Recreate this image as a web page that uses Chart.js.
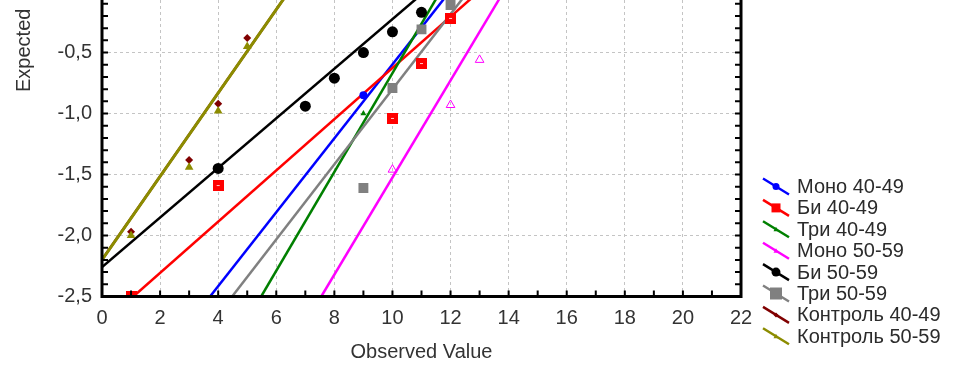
<!DOCTYPE html>
<html>
<head>
<meta charset="utf-8">
<script src="https://cdn.jsdelivr.net/npm/chart.js@4.4.1/dist/chart.umd.min.js"></script>
<style>
  html, body { margin: 0; padding: 0; background: #fff; }
  #wrap { width: 954px; height: 367px; }
</style>
</head>
<body>
<div id="wrap"><canvas id="ppChart"></canvas></div>
<script>
// Normal probability plot (Observed Value vs Expected normal value)
const groupNames = ["Моно 40-49", "Би 40-49", "Три 40-49", "Моно 50-59",
  "Би 50-59", "Три 50-59", "Контроль 40-49", "Контроль 50-59"];
const groupColors = ["#0000ff", "#ff0000", "#008000", "#ff00ff",
  "#000000", "#808080", "#800000", "#8c8c00"];

// observed values (x) and expected normal values (y), visible part only
const monoObs40 = [9];
const monoExp40 = [-0.85];
const biObs40 = [1, 4, 10, 11, 12];
const biExp40 = [-2.5, -1.59, -1.04, -0.59, -0.22];
const triObs40 = [9];
const triExp40 = [-1.0];
const monoObs50 = [10, 12, 13];
const monoExp50 = [-1.46, -0.93, -0.56];
const biObs50 = [4, 7, 8, 9, 10, 11];
const biExp50 = [-1.45, -0.94, -0.71, -0.5, -0.33, -0.17];
const triObs50 = [9, 10, 11, 12];
const triExp50 = [-1.61, -0.79, -0.31, -0.11];
const ctrlObs40 = [1, 3, 4, 5];
const ctrlExp40 = [-1.97, -1.38, -0.92, -0.38];
const ctrlObs50 = [1, 3, 4, 5];
const ctrlExp50 = [-2.0, -1.44, -0.98, -0.45];

// fitted lines: observed value where each line crosses expected -2.5 and 0
const fitExpEnds = [-2.5, 0];
const fitObsStart = [3.72, 1.08, 5.48, 7.55, -1.18, 4.48, -0.88, -0.88];
const fitObsEnd = [11.97, 12.98, 11.65, 13.83, 11.11, 12.6, 6.43, 6.43];

// axes
const xTicks = [0, 2, 4, 6, 8, 10, 12, 14, 16, 18, 20, 22];
const yTicks = [-2.5, -2.0, -1.5, -1.0, -0.5];
const yTop = -0.069; // top of plot is cut off in the picture

const obsLists = [monoObs40, biObs40, triObs40, monoObs50, biObs50, triObs50, ctrlObs40, ctrlObs50];
const expLists = [monoExp40, biExp40, triExp40, monoExp50, biExp50, triExp50, ctrlExp40, ctrlExp50];

// red square with a small white dash, like the original marker
function makeRedSquare() {
  const c = document.createElement("canvas");
  c.width = 11; c.height = 11;
  const g = c.getContext("2d");
  g.fillStyle = "#ff0000";
  g.fillRect(0, 0, 11, 11);
  g.strokeStyle = "rgba(255,255,255,0.8)";
  g.lineWidth = 1;
  g.beginPath(); g.moveTo(4, 5.5); g.lineTo(7, 5.5); g.stroke();
  return c;
}

const markerStyles = ["circle", makeRedSquare(), "triangle", "triangle",
  "circle", "rect", "rectRot", "triangle"];
const markerSizes = [4, 5, 3.5, 5, 5.5, 7, 4, 5];
const legendMarkerSizes = [3.5, 4.5, 2.5, 2.5, 4.5, 6, 2.5, 2.5];

const datasets = [];
groupNames.forEach((name, i) => {
  datasets.push({
    type: "scatter",
    label: name,
    data: obsLists[i].map((v, k) => ({ x: v, y: expLists[i][k] })),
    pointStyle: markerStyles[i],
    pointRadius: markerSizes[i],
    pointHoverRadius: markerSizes[i],
    backgroundColor: i === 3 ? "rgba(255,255,255,0)" : groupColors[i],
    borderColor: groupColors[i],
    borderWidth: i === 3 ? 1 : 0,
    order: 8 - i,
  });
  datasets.push({
    type: "line",
    label: name + " fit",
    data: fitExpEnds.map((e, k) => ({ x: k === 0 ? fitObsStart[i] : fitObsEnd[i], y: e })),
    borderColor: groupColors[i],
    borderWidth: i === 7 ? 3 : 2.5,
    pointRadius: 0,
    fill: false,
    order: 30 - i,
  });
});

function drawMarker(ctx, style, r, x, y, color) {
  ctx.fillStyle = color;
  ctx.beginPath();
  if (style === "circle") {
    ctx.arc(x, y, r, 0, Math.PI * 2);
  } else if (style === "triangle") {
    ctx.moveTo(x, y - r); ctx.lineTo(x + r, y + r * 0.8); ctx.lineTo(x - r, y + r * 0.8); ctx.closePath();
  } else if (style === "rectRot") {
    ctx.moveTo(x, y - r); ctx.lineTo(x + r, y); ctx.lineTo(x, y + r); ctx.lineTo(x - r, y); ctx.closePath();
  } else {
    ctx.rect(x - r, y - r, 2 * r, 2 * r);
  }
  ctx.fill();
}

const framePlugin = {
  id: "frame",
  afterDatasetsDraw(chart) {
    const { ctx, chartArea: a, scales: { x, y } } = chart;
    ctx.save();
    ctx.strokeStyle = "#000";
    // inward tick marks
    ctx.lineWidth = 2;
    ctx.beginPath();
    for (let v = 1; v < 22; v++) {
      const px = x.getPixelForValue(v);
      ctx.moveTo(px, a.bottom); ctx.lineTo(px, a.bottom - 6);
    }
    for (let k = -24; k < 0; k++) {
      const py = y.getPixelForValue(k / 10);
      ctx.moveTo(a.left, py); ctx.lineTo(a.left + 6, py);
      ctx.moveTo(a.right, py); ctx.lineTo(a.right - 6, py);
    }
    ctx.stroke();
    // frame
    ctx.lineWidth = 3;
    ctx.beginPath();
    ctx.moveTo(a.left, a.top - 2);
    ctx.lineTo(a.left, a.bottom);
    ctx.lineTo(a.right, a.bottom);
    ctx.lineTo(a.right, a.top - 2);
    ctx.stroke();

    // y title
    ctx.fillStyle = "#333";
    ctx.font = "20px 'Liberation Sans', Arial, sans-serif";
    ctx.save();
    ctx.translate(29.5, 92);
    ctx.rotate(-Math.PI / 2);
    ctx.textAlign = "left";
    ctx.textBaseline = "alphabetic";
    ctx.fillText("Expected", 0, 0);
    ctx.restore();

    // legend
    ctx.textAlign = "left";
    ctx.textBaseline = "middle";
    groupNames.forEach((name, i) => {
      const cy = 186.5 + i * 21.4;
      ctx.strokeStyle = groupColors[i];
      ctx.lineWidth = 2.5;
      ctx.beginPath();
      ctx.moveTo(763, cy - 8);
      ctx.lineTo(789, cy + 8);
      ctx.stroke();
      const st = typeof markerStyles[i] === "string" ? markerStyles[i] : "rect";
      drawMarker(ctx, st, legendMarkerSizes[i], 776, cy, groupColors[i]);
      ctx.fillStyle = "#2b2b2b";
      ctx.fillText(name, 797, cy + 1);
    });
    ctx.restore();
  },
};

const tickFont = { family: "'Liberation Sans', Arial, sans-serif", size: 20 };

new Chart(document.getElementById("ppChart"), {
  data: { datasets: datasets },
  options: {
    responsive: true,
    maintainAspectRatio: false,
    animation: false,
    layout: { autoPadding: false, padding: { left: 0, right: 213, top: 0, bottom: 0 } },
    plugins: { legend: { display: false }, tooltip: { enabled: false } },
    scales: {
      x: {
        type: "linear",
        min: 0,
        max: 22,
        afterBuildTicks: (s) => { s.ticks = xTicks.map((v) => ({ value: v })); },
        afterFit: (s) => { s.height = 70.5; },
        ticks: { font: tickFont, color: "#333", padding: 10, maxRotation: 0, autoSkip: false },
        grid: { color: "#c4c4c4", lineWidth: 1, drawTicks: false },
        border: { display: false, dash: [3, 3] },
        title: {
          display: true,
          text: "Observed Value",
          font: tickFont,
          color: "#333",
          padding: { top: 0, bottom: 3 },
        },
      },
      y: {
        type: "linear",
        min: -2.5,
        max: yTop,
        afterBuildTicks: (s) => { s.ticks = yTicks.map((v) => ({ value: v })); },
        afterFit: (s) => { s.width = 102; s.paddingTop = 0; s.paddingBottom = 0; },
        ticks: {
          font: tickFont,
          color: "#333",
          padding: 10,
          callback: (v) => Number(v).toFixed(1).replace(".", ","),
        },
        grid: { color: "#c4c4c4", lineWidth: 1, drawTicks: false },
        border: { display: false, dash: [3, 3] },
      },
    },
  },
  plugins: [framePlugin],
});
</script>
</body>
</html>
